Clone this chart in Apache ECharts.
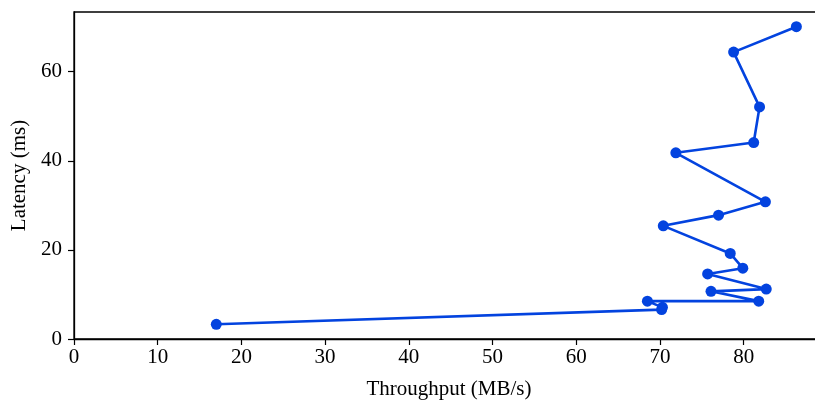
<!DOCTYPE html>
<html>
<head>
<meta charset="utf-8">
<script src="https://cdn.jsdelivr.net/npm/echarts@6/dist/echarts.min.js"></script>
<style>
  html, body { margin: 0; padding: 0; background: #fff; }
  #chart { width: 815px; height: 400px; }
</style>
</head>
<body>
<div id="chart"></div>
<script>
// values, in plotted order
const throughput = [17.0, 70.2, 70.3, 68.5, 81.8, 76.1, 82.7, 75.7, 79.9, 78.4,
    70.4, 77.0, 82.6, 71.9, 81.2, 81.9, 78.8, 86.3];
const latency = [3.3, 6.6, 7.1, 8.5, 8.5, 10.7, 11.2, 14.6, 15.9, 19.2,
    25.4, 27.8, 30.8, 41.8, 44.1, 52.1, 64.4, 70.1];
const xTicks = [0, 10, 20, 30, 40, 50, 60, 70, 80];
const yTicks = [0, 20, 40, 60];

const font = 'Liberation Serif';
const chart = echarts.init(document.getElementById('chart'));

const axisCommon = {
    axisLine: { show: true, onZero: false, lineStyle: { color: '#000', width: 1.3 } },
    splitLine: { show: false },
    nameTextStyle: { fontFamily: font, fontSize: 21, color: '#000' }
};

chart.setOption({
    animation: false,
    grid: {
        left: 74, top: 12, width: 750, height: 327,
        outerBoundsMode: 'none',
        containLabel: false,
        show: true, borderColor: '#000', borderWidth: 1.3
    },
    xAxis: Object.assign({}, axisCommon, {
        type: 'value',
        min: 0, max: 89.6,
        name: 'Throughput (MB/s)',
        nameLocation: 'middle',
        nameGap: 40,
        axisTick: { show: true, length: 6, inside: false, customValues: xTicks,
            lineStyle: { color: '#000', width: 1.2 } },
        axisLabel: { customValues: xTicks, fontFamily: font, fontSize: 21, color: '#000', margin: 8 }
    }),
    yAxis: Object.assign({}, axisCommon, {
        type: 'value',
        min: 0, max: 73.4,
        name: 'Latency (ms)',
        nameLocation: 'middle',
        nameGap: 44,
        axisTick: { show: true, length: 6, inside: false, customValues: yTicks,
            lineStyle: { color: '#000', width: 1.2 } },
        axisLabel: { customValues: yTicks, fontFamily: font, fontSize: 21, color: '#000', margin: 12 }
    }),
    series: [{
        type: 'line',
        data: throughput.map((x, i) => [x, latency[i]]),
        symbol: 'circle',
        symbolSize: 11,
        lineStyle: { color: '#0343df', width: 2.6 },
        itemStyle: { color: '#0343df' },
        clip: false
    }]
});
</script>
</body>
</html>
